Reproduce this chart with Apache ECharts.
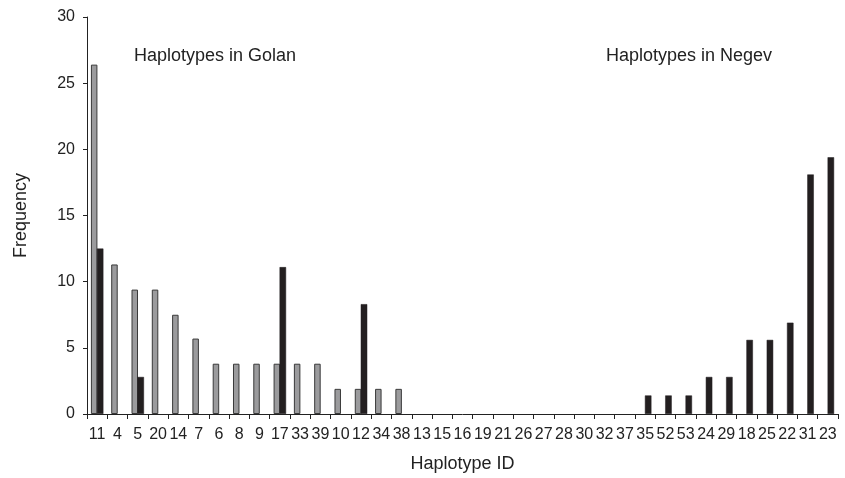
<!DOCTYPE html>
<html>
<head>
<meta charset="utf-8">
<script src="https://cdn.jsdelivr.net/npm/echarts@6/dist/echarts.min.js"></script>
<style>html,body{margin:0;padding:0;background:#fff}#c{width:845px;height:478px}</style>
</head>
<body>
<div id="c"></div>
<script>
var categories = ['11','4','5','20','14','7','6','8','9','17','33','39','10','12','34','38','13','15','16','19','21','26','27','28','30','32','37','35','52','53','24','29','18','25','22','31','23'];
var golan = [26.4,11.3,9.4,9.4,7.5,5.7,3.8,3.8,3.8,3.8,3.8,3.8,1.9,1.9,1.9,1.9,0,0,0,0,0,0,0,0,0,0,0,0,0,0,0,0,0,0,0,0,0];
var negev = [12.5,0,2.8,0,0,0,0,0,0,11.1,0,0,0,8.3,0,0,0,0,0,0,0,0,0,0,0,0,0,1.4,1.4,1.4,2.8,2.8,5.6,5.6,6.9,18.1,19.4];
var yTicks = [0,5,10,15,20,25,30];

function noZero(arr) { return arr.map(function (v) { return v === 0 ? null : v; }); }

var chart = echarts.init(document.getElementById('c'));
var font = 'Liberation Sans, Arial, sans-serif';
chart.setOption({
  animation: false,
  textStyle: {fontFamily: font},
  grid: {left: 87, right: 7, top: 17, bottom: 64},
  title: [
    {text: 'Haplotypes in Golan', left: 129, top: 42, textStyle: {fontSize: 18, fontWeight: 'normal', color: '#222', fontFamily: font}},
    {text: 'Haplotypes in Negev', left: 601, top: 42, textStyle: {fontSize: 18, fontWeight: 'normal', color: '#222', fontFamily: font}}
  ],
  xAxis: {
    type: 'category',
    data: categories,
    name: 'Haplotype ID',
    nameLocation: 'middle',
    nameGap: 41,
    nameTextStyle: {fontSize: 18, color: '#222'},
    axisLine: {lineStyle: {color: '#222', width: 1}},
    axisTick: {show: true, length: 5, lineStyle: {color: '#222'}},
    axisLabel: {interval: 0, fontSize: 16, color: '#222', margin: 13}
  },
  yAxis: {
    type: 'value',
    min: yTicks[0],
    max: yTicks[yTicks.length - 1],
    interval: 5,
    name: 'Frequency',
    nameLocation: 'middle',
    nameGap: 57,
    nameTextStyle: {fontSize: 18, color: '#222'},
    splitLine: {show: false},
    axisLine: {show: true, lineStyle: {color: '#222', width: 1}},
    axisTick: {show: true, length: 4, lineStyle: {color: '#222'}},
    axisLabel: {fontSize: 16, color: '#222', margin: 12}
  },
  series: [
    {
      name: 'Golan', type: 'bar', data: noZero(golan), barWidth: 6.5, barGap: '-8%',
      itemStyle: {color: '#9b9b9d', borderColor: '#3a3a3a', borderWidth: 1}
    },
    {
      name: 'Negev', type: 'bar', data: noZero(negev), barWidth: 6.5, barGap: '-8%',
      itemStyle: {color: '#231f20', borderColor: '#231f20', borderWidth: 0.5}
    }
  ]
});
</script>
</body>
</html>
